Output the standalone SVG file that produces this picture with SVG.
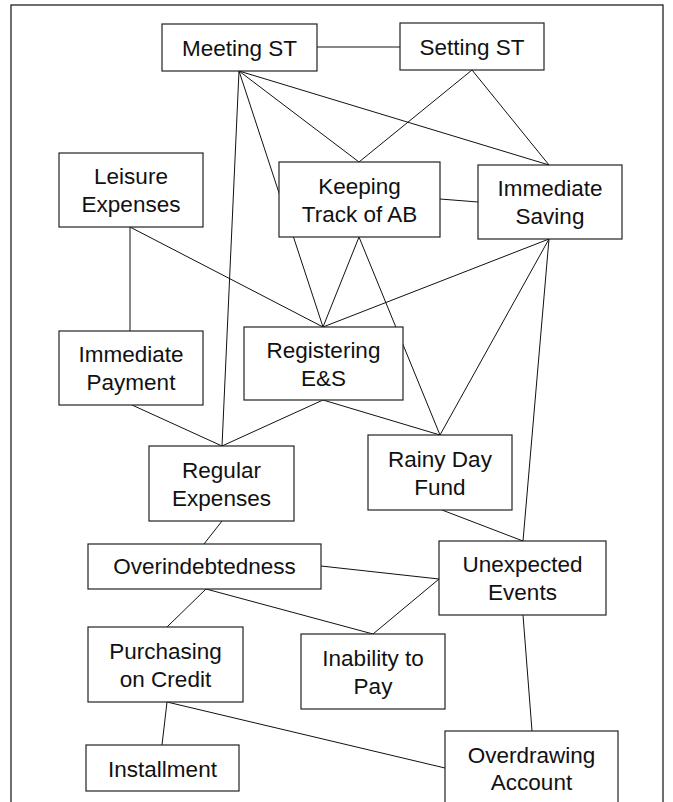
<svg xmlns="http://www.w3.org/2000/svg" width="673" height="802" viewBox="0 0 673 802">
<style>
.frame{fill:none;stroke:#222;stroke-width:1.3}
.box{fill:#fff;stroke:#222;stroke-width:1.2}
.lbl{font-family:"Liberation Sans",Arial,sans-serif;font-size:22.5px;fill:#111;text-anchor:middle}
#connectors line{stroke:#111;stroke-width:1}
</style>
<rect width="673" height="802" fill="#fff"/>
<rect class="frame" x="11" y="5" width="652" height="810"/>
<g id="connectors">
<line x1="317" y1="47" x2="400" y2="47"/>
<line x1="239" y1="71" x2="222" y2="446"/>
<line x1="239" y1="71" x2="323" y2="327"/>
<line x1="239" y1="71" x2="359" y2="162"/>
<line x1="239" y1="71" x2="549" y2="165"/>
<line x1="472" y1="70" x2="359" y2="162"/>
<line x1="472" y1="70" x2="549" y2="165"/>
<line x1="440" y1="199" x2="478" y2="202"/>
<line x1="130" y1="227" x2="130" y2="331"/>
<line x1="130" y1="227" x2="323" y2="327"/>
<line x1="359" y1="237" x2="323" y2="327"/>
<line x1="359" y1="237" x2="440" y2="435"/>
<line x1="549" y1="239" x2="323" y2="327"/>
<line x1="549" y1="239" x2="440" y2="435"/>
<line x1="549" y1="239" x2="523" y2="541"/>
<line x1="132" y1="405" x2="222" y2="446"/>
<line x1="323" y1="400" x2="222" y2="446"/>
<line x1="323" y1="400" x2="440" y2="435"/>
<line x1="442" y1="510" x2="523" y2="541"/>
<line x1="222" y1="521" x2="204" y2="544"/>
<line x1="321" y1="566" x2="439" y2="579"/>
<line x1="206" y1="589" x2="167" y2="627"/>
<line x1="206" y1="589" x2="373" y2="634"/>
<line x1="439" y1="579" x2="373" y2="634"/>
<line x1="523" y1="615" x2="532" y2="731"/>
<line x1="167" y1="702" x2="162" y2="745"/>
<line x1="167" y1="702" x2="445" y2="768"/>
</g>
<g id="meeting-st"><rect class="box" x="162" y="24" width="155" height="47"/><text class="lbl" x="239.5" y="56">Meeting ST</text></g>
<g id="setting-st"><rect class="box" x="400" y="23" width="144" height="47"/><text class="lbl" x="472" y="55">Setting ST</text></g>
<g id="leisure-expenses"><rect class="box" x="59" y="153" width="144" height="74"/><text class="lbl" x="131" y="184">Leisure</text><text class="lbl" x="131" y="212">Expenses</text></g>
<g id="keeping-track"><rect class="box" x="279" y="162" width="161" height="75"/><text class="lbl" x="359.5" y="193.5">Keeping</text><text class="lbl" x="359.5" y="221.5">Track of AB</text></g>
<g id="immediate-saving"><rect class="box" x="478" y="165" width="144" height="74"/><text class="lbl" x="550" y="196">Immediate</text><text class="lbl" x="550" y="224">Saving</text></g>
<g id="immediate-payment"><rect class="box" x="59" y="331" width="144" height="74"/><text class="lbl" x="131" y="362">Immediate</text><text class="lbl" x="131" y="390">Payment</text></g>
<g id="registering"><rect class="box" x="244" y="327" width="159" height="73"/><text class="lbl" x="323.5" y="357.5">Registering</text><text class="lbl" x="323.5" y="385.5">E&amp;S</text></g>
<g id="regular-expenses"><rect class="box" x="149" y="446" width="145" height="75"/><text class="lbl" x="221.5" y="477.5">Regular</text><text class="lbl" x="221.5" y="505.5">Expenses</text></g>
<g id="rainy-day-fund"><rect class="box" x="368" y="435" width="144" height="75"/><text class="lbl" x="440" y="466.5">Rainy Day</text><text class="lbl" x="440" y="494.5">Fund</text></g>
<g id="overindebtedness"><rect class="box" x="88" y="544" width="233" height="45"/><text class="lbl" x="204.5" y="574">Overindebtedness</text></g>
<g id="unexpected-events"><rect class="box" x="439" y="541" width="167" height="74"/><text class="lbl" x="522.5" y="572">Unexpected</text><text class="lbl" x="522.5" y="600">Events</text></g>
<g id="purchasing-on-credit"><rect class="box" x="88" y="627" width="155" height="75"/><text class="lbl" x="165.5" y="658.5">Purchasing</text><text class="lbl" x="165.5" y="686.5">on Credit</text></g>
<g id="inability-to-pay"><rect class="box" x="301" y="634" width="144" height="75"/><text class="lbl" x="373" y="665.5">Inability to</text><text class="lbl" x="373" y="693.5">Pay</text></g>
<g id="installment"><rect class="box" x="86" y="745" width="153" height="46"/><text class="lbl" x="162.5" y="776.5">Installment</text></g>
<g id="overdrawing-account"><rect class="box" x="445" y="731" width="173" height="80"/><text class="lbl" x="531.5" y="762.5">Overdrawing</text><text class="lbl" x="531.5" y="790">Account</text></g>
</svg>
